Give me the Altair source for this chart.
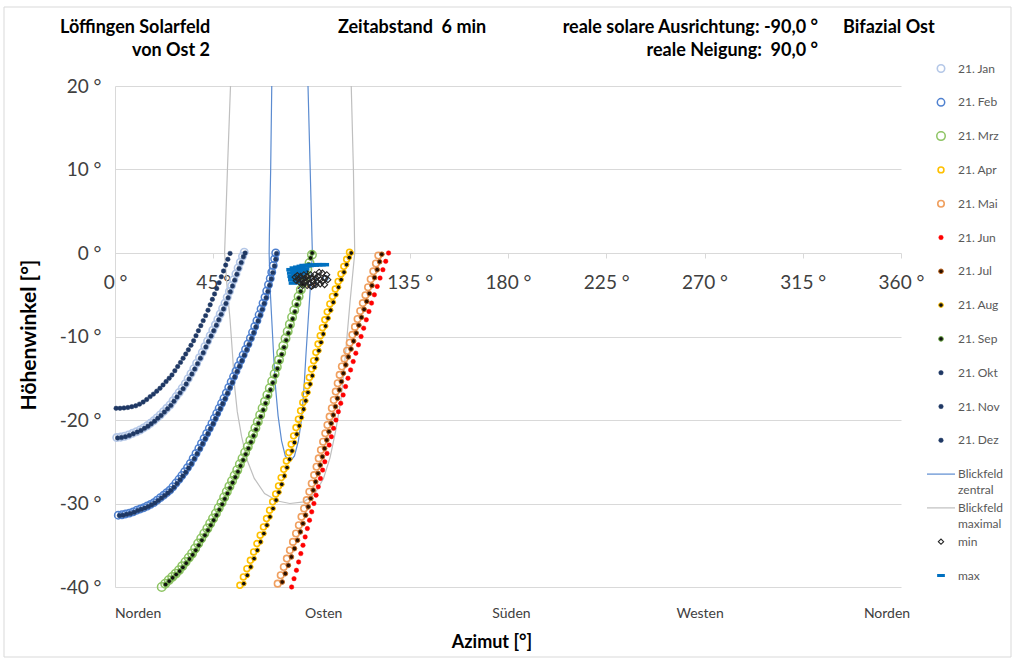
import altair as alt
import pandas as pd

# plot rectangle inside the 1015 x 662 page
LEFT, TOP = 115, 86
W, H = 786, 501
Y_MIN, Y_MAX = -40, 20
FONT = "Lato"

# sun positions (azimuth, elevation) in the panel frame, one point every 6 minutes
JAN = [(0.8,-22.1),(2.6,-22.05),(4.4,-21.95),(6.2,-21.8),(8.0,-21.6),(9.8,-21.4),(11.5,-21.2),(13.1,-20.95),
       (14.7,-20.7),(16.2,-20.4),(17.7,-20.1),(19.2,-19.75),(20.7,-19.4),(22.2,-19.0),(23.7,-18.6),(25.2,-18.2),
       (26.6,-17.7),(28.0,-17.2),(29.4,-16.7),(30.8,-16.2),(32.2,-15.65),(33.5,-15.05),(34.8,-14.45),(36.1,-13.85),
       (37.4,-13.2),(38.7,-12.55),(40.0,-11.9),(41.2,-11.2),(42.4,-10.55),(43.6,-9.9),(44.8,-9.25),(46.0,-8.6),
       (47.1,-7.95),(48.2,-7.3),(49.3,-6.65),(50.4,-6.0),(51.4,-5.3),(52.4,-4.6),(53.4,-3.9),(54.4,-3.2),
       (55.4,-2.5),(56.4,-1.8),(57.4,-1.1),(58.4,-0.4),(59.2,0.1)]
FEB = [(1.5,-31.4),(3.2,-31.35),(4.9,-31.25),(6.6,-31.15),(8.3,-31.0),(10.0,-30.8),(11.6,-30.65),(13.2,-30.5),
       (14.8,-30.3),(16.3,-30.1),(17.8,-29.9),(19.3,-29.6),(20.8,-29.3),(22.3,-29.0),(23.7,-28.7),(25.1,-28.4),
       (26.5,-28.0),(27.9,-27.55),(29.3,-27.1),(30.6,-26.65),(31.9,-26.2),(33.2,-25.7),(34.5,-25.2),(35.8,-24.6),
       (37.1,-24.0),(38.4,-23.4),(39.6,-22.8),(40.8,-22.2),(42.0,-21.6),(43.2,-21.0),(44.4,-20.4),(45.5,-19.8),
       (46.6,-19.2),(47.7,-18.6),(48.8,-18.0),(49.9,-17.4),(51.0,-16.75),(52.1,-16.1),(53.2,-15.45),(54.3,-14.8),
       (55.4,-14.15),(56.5,-13.5),(57.6,-12.85),(58.7,-12.2),(59.8,-11.55),(60.9,-10.9),(62.0,-10.2),(63.0,-9.5),
       (64.0,-8.8),(65.0,-8.1),(66.0,-7.4),(66.9,-6.7),(67.8,-6.0),(68.7,-5.3),(69.5,-4.55),(70.3,-3.8),
       (71.1,-3.05),(71.8,-2.3),(72.5,-1.5),(73.1,-0.7),(73.6,0.0)]
MRZ = [(21.4,-40.0),(23.0,-39.6),(24.6,-39.2),(26.2,-38.8),(27.8,-38.4),(29.3,-38.0),(30.8,-37.5),(32.3,-37.0),
       (33.8,-36.5),(35.3,-36.0),(36.7,-35.4),(38.1,-34.8),(39.5,-34.2),(40.9,-33.6),(42.3,-33.0),(43.6,-32.4),
       (44.9,-31.8),(46.2,-31.2),(47.5,-30.55),(48.8,-29.9),(50.0,-29.25),(51.2,-28.6),(52.4,-27.95),(53.6,-27.3),
       (54.8,-26.65),(56.0,-26.0),(57.2,-25.3),(58.4,-24.6),(59.6,-23.9),(60.8,-23.2),(62.0,-22.45),(63.2,-21.7),
       (64.3,-20.95),(65.4,-20.2),(66.5,-19.4),(67.6,-18.6),(68.7,-17.8),(69.8,-17.0),(70.9,-16.2),(72.0,-15.35),
       (73.1,-14.5),(74.1,-13.65),(75.1,-12.8),(76.1,-11.95),(77.1,-11.1),(78.1,-10.25),(79.1,-9.4),(80.1,-8.55),
       (81.1,-7.7),(82.1,-6.85),(83.1,-6.0),(84.1,-5.2),(85.1,-4.4),(86.1,-3.6),(87.1,-2.8),(88.1,-2.0),
       (89.1,-1.2),(90.2,-0.2)]
APR = [(57.2,-39.8),(58.8,-38.8),(60.4,-37.8),(62.0,-36.8),(63.5,-35.8),(65.0,-34.8),(66.5,-33.8),(68.0,-32.8),
       (69.4,-31.8),(70.8,-30.8),(72.2,-29.8),(73.6,-28.85),(74.9,-27.9),(76.1,-26.9),(77.3,-25.9),(78.5,-24.9),
       (79.6,-23.9),(80.7,-22.9),(81.8,-21.9),(82.9,-20.9),(84.0,-19.9),(85.0,-18.9),(86.0,-17.9),(87.0,-16.9),
       (88.0,-15.9),(89.0,-14.9),(90.0,-13.9),(91.0,-12.9),(92.0,-11.9),(93.0,-10.9),(94.0,-9.9),(95.0,-8.95),
       (96.1,-8.0),(97.2,-7.05),(98.4,-6.1),(99.6,-5.2),(100.9,-4.3),(102.2,-3.4),(103.5,-2.5),(104.8,-1.6),
       (106.1,-0.75),(107.4,0.1)]
MAI = [(74.5,-39.6),(75.9,-38.6),(77.3,-37.6),(78.7,-36.6),(80.1,-35.6),(81.5,-34.6),(82.9,-33.6),(84.2,-32.6),
       (85.4,-31.6),(86.6,-30.6),(87.8,-29.6),(89.0,-28.6),(90.1,-27.6),(91.2,-26.6),(92.3,-25.6),(93.3,-24.6),
       (94.3,-23.6),(95.3,-22.6),(96.3,-21.6),(97.3,-20.6),(98.3,-19.6),(99.3,-18.6),(100.2,-17.6),(101.1,-16.6),
       (102.0,-15.6),(102.9,-14.6),(103.9,-13.6),(105.1,-12.65),(106.3,-11.7),(107.5,-10.75),(108.7,-9.8),
       (109.9,-8.85),(111.1,-7.9),(112.3,-6.95),(113.5,-6.0),(114.7,-5.05),(115.9,-4.1),(117.1,-3.15),
       (118.3,-2.2),(119.5,-1.25),(120.6,-0.3)]
JUN = [(80.9,-40.0),(82.0,-39.0),(83.1,-38.0),(84.1,-37.0),(85.1,-36.0),(86.1,-35.0),(87.1,-34.0),(88.1,-33.0),
       (89.1,-32.0),(90.1,-31.0),(91.1,-30.0),(92.1,-29.0),(93.1,-28.0),(94.1,-27.0),(95.1,-26.0),(96.1,-25.0),
       (97.1,-24.0),(98.1,-23.0),(99.1,-22.0),(100.1,-21.0),(101.2,-20.0),(102.3,-19.0),(103.4,-18.0),(104.5,-17.0),
       (105.6,-16.0),(106.7,-15.0),(107.9,-14.0),(109.1,-13.0),(110.3,-12.0),(111.5,-11.0),(112.7,-10.0),
       (113.9,-9.0),(115.1,-8.0),(116.3,-7.0),(117.5,-6.0),(118.8,-5.0),(120.1,-4.0),(121.4,-3.0),(122.7,-2.0),
       (124.0,-1.0),(125.3,0.0)]
JUL = [(76.6,-39.4),(78.0,-38.4),(79.4,-37.4),(80.8,-36.4),(82.2,-35.4),(83.6,-34.4),(84.9,-33.4),(86.1,-32.4),
       (87.3,-31.4),(88.5,-30.4),(89.7,-29.4),(90.8,-28.4),(91.9,-27.4),(93.0,-26.4),(94.0,-25.4),(95.0,-24.4),
       (96.0,-23.4),(97.0,-22.4),(98.0,-21.4),(99.0,-20.4),(100.0,-19.4),(101.0,-18.4),(101.9,-17.4),(102.8,-16.4),
       (103.7,-15.4),(104.6,-14.4),(105.7,-13.4),(106.9,-12.45),(108.1,-11.5),(109.3,-10.55),(110.5,-9.6),
       (111.7,-8.65),(112.9,-7.7),(114.1,-6.75),(115.3,-5.8),(116.5,-4.85),(117.7,-3.9),(118.9,-2.95),
       (120.1,-2.0),(121.2,-1.05),(122.2,-0.15)]
AUG = [(59.0,-39.6),(60.6,-38.6),(62.2,-37.6),(63.7,-36.6),(65.2,-35.6),(66.7,-34.6),(68.2,-33.6),(69.6,-32.6),
       (71.0,-31.6),(72.4,-30.6),(73.8,-29.6),(75.1,-28.65),(76.4,-27.7),(77.6,-26.7),(78.8,-25.7),(80.0,-24.7),
       (81.1,-23.7),(82.2,-22.7),(83.3,-21.7),(84.4,-20.7),(85.4,-19.7),(86.4,-18.7),(87.4,-17.7),(88.4,-16.7),
       (89.4,-15.7),(90.4,-14.7),(91.4,-13.7),(92.4,-12.7),(93.4,-11.7),(94.4,-10.7),(95.4,-9.7),(96.5,-8.75),
       (97.6,-7.8),(98.8,-6.85),(100.0,-5.9),(101.2,-5.0),(102.4,-4.1),(103.6,-3.2),(104.9,-2.3),(106.1,-1.4),
       (107.3,-0.55),(108.2,0.0)]
SEP = [(23.2,-39.7),(24.8,-39.3),(26.4,-38.9),(28.0,-38.5),(29.6,-38.1),(31.1,-37.65),(32.6,-37.15),(34.1,-36.65),
       (35.6,-36.15),(37.0,-35.6),(38.4,-35.0),(39.8,-34.4),(41.2,-33.8),(42.6,-33.2),(43.9,-32.6),(45.2,-32.0),
       (46.5,-31.4),(47.8,-30.75),(49.1,-30.1),(50.3,-29.45),(51.5,-28.8),(52.7,-28.15),(53.9,-27.5),(55.1,-26.85),
       (56.3,-26.2),(57.5,-25.5),(58.7,-24.8),(59.9,-24.1),(61.1,-23.4),(62.3,-22.65),(63.5,-21.9),(64.6,-21.15),
       (65.7,-20.4),(66.8,-19.6),(67.9,-18.8),(69.0,-18.0),(70.1,-17.2),(71.2,-16.4),(72.3,-15.55),(73.4,-14.7),
       (74.4,-13.85),(75.4,-13.0),(76.4,-12.15),(77.4,-11.3),(78.4,-10.45),(79.4,-9.6),(80.4,-8.75),(81.4,-7.9),
       (82.4,-7.05),(83.3,-6.2),(84.2,-5.4),(85.1,-4.6),(86.0,-3.8),(86.9,-3.0),(87.8,-2.2),(88.7,-1.4),
       (89.6,-0.6),(90.3,0.0)]
OKT = [(2.0,-31.45),(3.7,-31.4),(5.4,-31.3),(7.1,-31.2),(8.8,-31.05),(10.5,-30.85),(12.1,-30.7),(13.7,-30.55),
       (15.3,-30.35),(16.8,-30.15),(18.3,-29.95),(19.8,-29.65),(21.3,-29.35),(22.8,-29.05),(24.2,-28.75),(25.6,-28.45),
       (27.0,-28.05),(28.4,-27.6),(29.8,-27.15),(31.1,-26.7),(32.4,-26.25),(33.7,-25.75),(35.0,-25.25),(36.3,-24.65),
       (37.6,-24.05),(38.9,-23.45),(40.1,-22.85),(41.3,-22.25),(42.5,-21.65),(43.7,-21.05),(44.9,-20.45),(46.0,-19.85),
       (47.1,-19.25),(48.2,-18.65),(49.3,-18.05),(50.4,-17.45),(51.5,-16.8),(52.6,-16.15),(53.7,-15.5),(54.8,-14.85),
       (55.9,-14.2),(57.0,-13.55),(58.1,-12.9),(59.2,-12.25),(60.3,-11.6),(61.4,-10.95),(62.5,-10.25),(63.5,-9.55),
       (64.5,-8.85),(65.5,-8.15),(66.5,-7.45),(67.4,-6.75),(68.3,-6.05),(69.2,-5.35),(70.0,-4.6),(70.8,-3.85),
       (71.6,-3.1),(72.3,-2.35),(73.0,-1.55),(73.6,-0.75),(74.0,-0.05)]
NOV = [(1.2,-22.15),(3.0,-22.1),(4.8,-22.0),(6.6,-21.85),(8.4,-21.65),(10.2,-21.45),(11.9,-21.25),(13.5,-21.0),
       (15.1,-20.75),(16.6,-20.45),(18.1,-20.15),(19.6,-19.8),(21.1,-19.45),(22.6,-19.05),(24.1,-18.65),(25.6,-18.25),
       (27.0,-17.75),(28.4,-17.25),(29.8,-16.75),(31.2,-16.25),(32.6,-15.7),(33.9,-15.1),(35.2,-14.5),(36.5,-13.9),
       (37.8,-13.25),(39.1,-12.6),(40.4,-11.95),(41.6,-11.25),(42.8,-10.6),(44.0,-9.95),(45.2,-9.3),(46.4,-8.65),
       (47.5,-8.0),(48.6,-7.35),(49.7,-6.7),(50.8,-6.05),(51.8,-5.35),(52.8,-4.65),(53.8,-3.95),(54.8,-3.25),
       (55.8,-2.55),(56.8,-1.85),(57.8,-1.15),(58.8,-0.45),(59.6,0.0)]
DEZ = [(0.5,-18.6),(2.3,-18.6),(4.1,-18.55),(5.9,-18.5),(7.7,-18.4),(9.5,-18.3),(11.2,-18.1),(12.9,-17.85),
       (14.5,-17.55),(16.1,-17.2),(17.6,-16.9),(19.1,-16.55),(20.6,-16.2),(22.0,-15.8),(23.4,-15.4),(24.8,-15.0),
       (26.1,-14.6),(27.4,-14.1),(28.7,-13.6),(30.0,-13.1),(31.2,-12.6),(32.4,-12.1),(33.6,-11.6),(34.8,-11.05),
       (36.0,-10.5),(37.1,-9.9),(38.2,-9.3),(39.3,-8.7),(40.4,-8.1),(41.5,-7.5),(42.6,-6.85),(43.6,-6.2),
       (44.6,-5.55),(45.6,-4.9),(46.6,-4.25),(47.7,-3.55),(48.7,-2.85),(49.7,-2.15),(50.7,-1.45),(51.7,-0.75),
       (52.7,-0.05)]

# field of view outlines
BLICK_ZENTRAL = [(71.8,20),(71.3,10),(70.7,2),(70.6,0),(71.0,-4),(71.8,-8),(72.6,-12),(73.5,-16),(74.7,-19.5),
                 (76.3,-22.5),(78.0,-24.3),(80.1,-25.0),(82.2,-24.3),(84.0,-22.5),(85.5,-19.8),(86.6,-16),
                 (87.5,-12),(88.5,-8),(89.5,-4),(90.4,0),(89.4,10),(88.4,20)]
BLICK_MAXIMAL = [(52.9,20),(51.5,10),(50.2,0),(51.3,-4),(52.7,-8),(53.8,-12),(54.8,-16),(56.0,-19),(58.0,-22),
                 (60.5,-24.8),(63.8,-27),(68.5,-28.8),(74.5,-29.7),(80.1,-30.0),(86.5,-29.8),(91.5,-28.8),
                 (95.5,-27),(98.5,-24.5),(101.0,-21.4),(103.5,-17.6),(105.6,-12),(107.6,-6),(109.8,0),
                 (109.2,10),(108.2,20)]

# extreme values
MIN_PTS = [(82.5,-2.9),(83,-3.3),(83.5,-2.7),(84,-3.1),(84.5,-3.5),(85,-2.8),(85.5,-3.2),(86,-3.6),(86.5,-2.6),
           (87,-3.0),(87.5,-3.4),(88,-2.8),(88.5,-3.2),(89,-3.6),(89.5,-2.6),(90,-3.0),(90.5,-3.4),(91,-3.8),
           (91.5,-2.6),(92,-3.0),(92.5,-3.4),(93,-2.8),(94,-3.2),(95,-3.4),(96,-3.0),(97,-2.6),(88,-3.9),
           (90,-4.0),(92,-3.8),(94,-3.7),(96,-3.8),(86,-3.9),(95,-2.4),(97.5,-3.2),(93.5,-2.3)]
MAX_PTS = [(80.5,-2.0),(80.8,-2.4),(81,-2.8),(81.3,-3.2),(81.6,-3.6),(82,-1.8),(82.3,-2.2),(82.6,-2.6),(83,-3.0),
           (83.3,-3.4),(83.6,-1.7),(84,-2.1),(84.4,-2.5),(84.8,-2.9),(85.2,-1.6),(85.6,-2.0),(86,-2.4),(86.5,-1.5),
           (87,-1.9),(88,-1.5),(89,-1.5),(90,-1.45),(91.5,-1.45),(93,-1.4),(94.5,-1.4),(96,-1.4)]

DIRECTIONS = ["Norden", "Osten", "Süden", "Westen", "Norden"]
DIRECTION_AZ = [10.6, 95.6, 181.6, 268.0, 353.6]
X_TICKS = [0, 45, 90, 135, 180, 225, 270, 315, 360]
Y_TICKS = [-40, -30, -20, -10, 0, 10, 20]

GRID = "#D9D9D9"
TXT = "#404040"
NBSP = "\u00a0"

x_scale = alt.Scale(domain=[0, 360], nice=False, zero=False)
y_scale = alt.Scale(domain=[Y_MIN, Y_MAX], nice=False, zero=False)
x_axis = alt.Axis(values=X_TICKS, labelExpr="datum.value + ' °'", offset=-H * (0 - Y_MIN) / (Y_MAX - Y_MIN),
                  grid=False, domain=False, ticks=True, tickSize=5, tickColor=GRID, labelPadding=15,
                  labelFont=FONT, labelFontSize=19, labelColor=TXT, labelOverlap=False, labelBound=False,
                  labelFlush=False, title=None)
y_axis = alt.Axis(values=Y_TICKS, labelExpr="datum.value + ' °'", grid=True, gridColor=GRID, gridWidth=1,
                  domain=True, domainColor=GRID, ticks=False, labelPadding=14, labelFont=FONT,
                  labelFontSize=19, labelColor=TXT, title=None)


def xy():
    return dict(x=alt.X("az:Q", scale=x_scale, axis=x_axis),
                y=alt.Y("el:Q", scale=y_scale, axis=y_axis))


def frame(points):
    return pd.DataFrame(points, columns=["az", "el"])


def series(points, **mark):
    style = dict(shape="circle", opacity=1)
    style.update(mark)
    return alt.Chart(frame(points)).mark_point(**style).encode(**xy())


def outline(points, color):
    df = frame(points)
    df["i"] = range(len(df))
    return alt.Chart(df).mark_line(color=color, strokeWidth=1.2).encode(order="i:Q", **xy())


NAVY = "#1F3864"
STYLES = {
    "21. Jan": dict(filled=False, stroke="#B4C7E7", strokeWidth=1.6, size=55),
    "21. Feb": dict(filled=False, stroke="#4F81D0", strokeWidth=1.5, size=55),
    "21. Mrz": dict(filled=False, stroke="#8DC463", strokeWidth=1.5, size=72),
    "21. Apr": dict(filled=False, stroke="#FFC000", strokeWidth=1.6, size=34),
    "21. Mai": dict(filled=False, stroke="#F0A060", strokeWidth=1.6, size=42),
    "21. Jun": dict(filled=True, fill="#FF0000", stroke="#FF0000", strokeWidth=0.5, size=20),
    "21. Jul": dict(filled=True, fill="#2B1100", stroke="#C0661E", strokeWidth=1, size=22),
    "21. Aug": dict(filled=True, fill="#111111", stroke="#FFC000", strokeWidth=1, size=22),
    "21. Sep": dict(filled=True, fill="#111111", stroke="#70AD47", strokeWidth=1, size=22),
    "21. Okt": dict(filled=True, fill=NAVY, stroke=NAVY, strokeWidth=0.5, size=20),
    "21. Nov": dict(filled=True, fill=NAVY, stroke=NAVY, strokeWidth=0.5, size=20),
    "21. Dez": dict(filled=True, fill=NAVY, stroke=NAVY, strokeWidth=0.5, size=20),
}
MONTHS = [("21. Jan", JAN), ("21. Feb", FEB), ("21. Mrz", MRZ), ("21. Apr", APR), ("21. Mai", MAI),
          ("21. Jun", JUN), ("21. Jul", JUL), ("21. Aug", AUG), ("21. Sep", SEP), ("21. Okt", OKT),
          ("21. Nov", NOV), ("21. Dez", DEZ)]
MIN_STYLE = dict(shape="diamond", filled=False, stroke="#262626", strokeWidth=1.1, size=36)
MAX_STYLE = dict(shape="stroke", filled=False, stroke="#0070C0", strokeWidth=3.5, size=80)

one = pd.DataFrame({"k": [0]})


def text(t, px, py, **kw):
    style = dict(font=FONT, fontSize=18, fontWeight="bold", color="#000000", align="left", baseline="middle")
    style.update(kw)
    return alt.Chart(one).mark_text(text=t, **style).encode(x=alt.value(px - LEFT), y=alt.value(py - TOP))


def marker(px, py, **mark):
    style = dict(shape="circle", opacity=1)
    style.update(mark)
    return alt.Chart(one).mark_point(**style).encode(x=alt.value(px - LEFT), y=alt.value(py - TOP))


layers = []
# outer frame of the chart area
layers.append(alt.Chart(one).mark_rect(fillOpacity=0, stroke=GRID, strokeWidth=1).encode(
    x=alt.value(4 - LEFT), x2=alt.value(1011 - LEFT), y=alt.value(7 - TOP), y2=alt.value(657 - TOP)))

layers.append(outline(BLICK_ZENTRAL, "#5B8BD0"))
layers.append(outline(BLICK_MAXIMAL, "#BFBFBF"))
for name, pts in MONTHS:
    layers.append(series(pts, **STYLES[name]))
layers.append(series(MAX_PTS, **MAX_STYLE))
layers.append(series(MIN_PTS, **MIN_STYLE))

# compass directions under the plot
dir_df = pd.DataFrame({"az": DIRECTION_AZ, "name": DIRECTIONS})
layers.append(alt.Chart(dir_df).mark_text(font=FONT, fontSize=14, color=TXT, baseline="middle").encode(
    x=alt.X("az:Q", scale=x_scale, axis=x_axis), y=alt.value(614 - TOP), text="name:N"))

# titles
layers += [
    text("Löffingen Solarfeld", 60, 28),
    text("von Ost 2", 132, 51),
    text("Zeitabstand" + NBSP + NBSP + "6 min", 338, 28),
    text("reale solare Ausrichtung: -90,0 °", 818, 28, align="right"),
    text("reale Neigung:" + NBSP + NBSP + "90,0 °", 818, 51, align="right"),
    text("Bifazial Ost", 843, 28),
    text("Azimut [°]", 492, 643, align="center", fontSize=18),
    text("Höhenwinkel [°]", 30, 335, align="center", angle=270, fontSize=21),
]

# legend
ROW0, STEP = 68.5, 33.8
SYM_X, LAB_X = 941, 958
leg = dict(fontSize=12, fontWeight="normal", color="#595959")
for i, (name, _) in enumerate(MONTHS):
    y = ROW0 + STEP * i
    layers.append(marker(SYM_X, y, **STYLES[name]))
    layers.append(text(name, LAB_X, y, **leg))
for j, (color, first, second) in enumerate([("#5B8BD0", "Blickfeld", "zentral"),
                                            ("#BFBFBF", "Blickfeld", "maximal")]):
    y = ROW0 + STEP * (12 + j)
    layers.append(alt.Chart(one).mark_rule(color=color, strokeWidth=1.2).encode(
        x=alt.value(927 - LEFT), x2=alt.value(955 - LEFT), y=alt.value(y - TOP)))
    layers.append(text(first, LAB_X, y, **leg))
    layers.append(text(second, LAB_X, y + 16, **leg))
y_min_row = ROW0 + STEP * 14
layers.append(marker(SYM_X, y_min_row, **dict(MIN_STYLE, size=28)))
layers.append(text("min", LAB_X, y_min_row, **leg))
y_max_row = ROW0 + STEP * 15
layers.append(marker(SYM_X, y_max_row, **dict(MAX_STYLE, strokeWidth=3, size=60)))
layers.append(text("max", LAB_X, y_max_row, **leg))

chart = alt.layer(*layers).properties(
    width=W, height=H,
    padding={"left": LEFT, "top": TOP, "right": 1015 - LEFT - W, "bottom": 662 - TOP - H},
    autosize=alt.AutoSizeParams(type="none"),
    background="white",
).configure_view(stroke=None)

chart.save("out.html", embed_options={"renderer": "svg", "actions": False})
